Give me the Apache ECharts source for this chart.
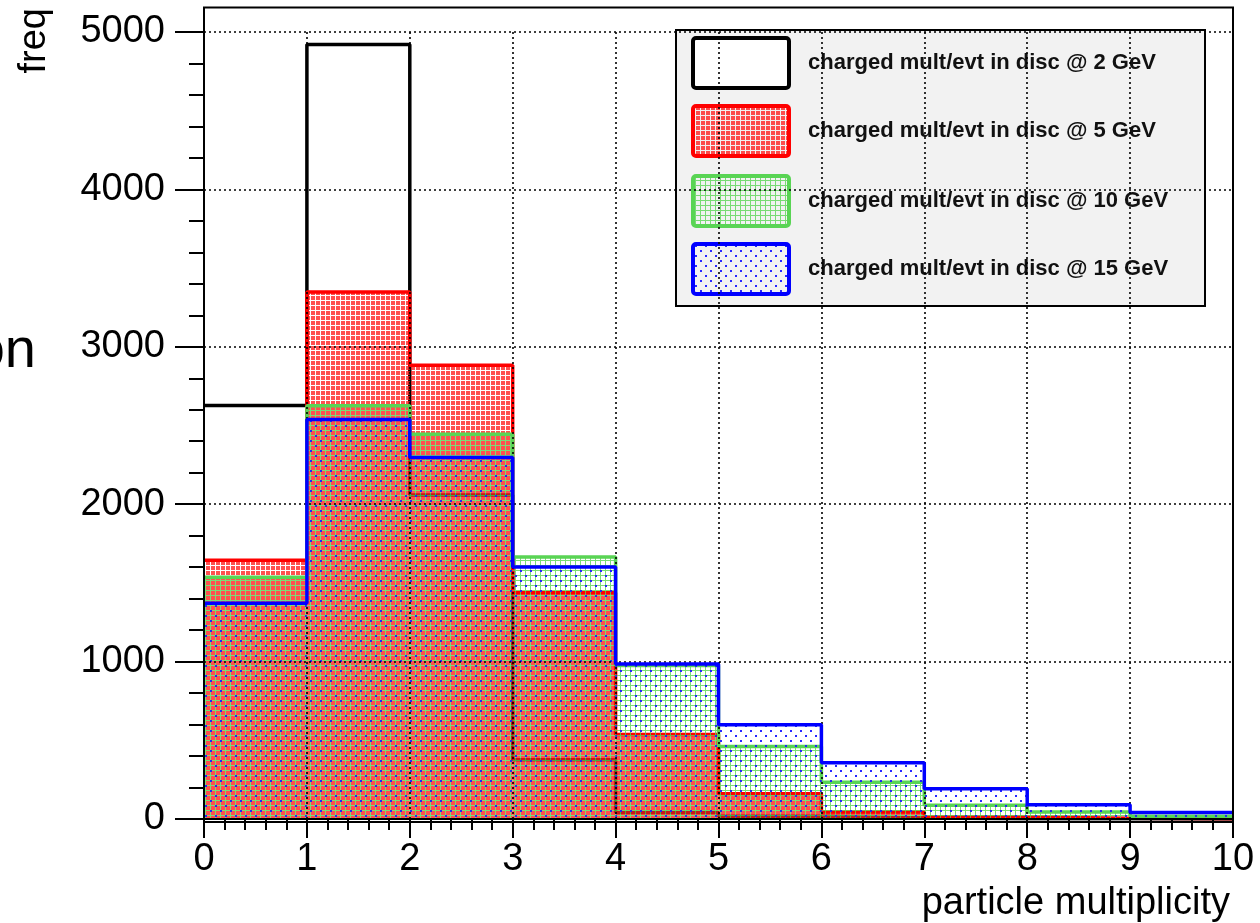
<!DOCTYPE html>
<html>
<head>
<meta charset="utf-8">
<script src="https://cdn.jsdelivr.net/npm/echarts@6/dist/echarts.min.js"></script>
<style>
  html, body { margin: 0; padding: 0; background: #ffffff; }
  #chart { width: 1260px; height: 923px; }
</style>
</head>
<body>
<div id="chart"></div>
<script>
// Charged-particle multiplicity per event in the disc, unit-width bins 0..10
const binLowEdges = [0, 1, 2, 3, 4, 5, 6, 7, 8, 9];
const binWidth = 1;

const freq2GeV  = [2627, 4920, 2058, 376, 42, 18, 6, 2, 1, 0];
const freq5GeV  = [1644, 3348, 2882, 1438, 537, 160, 45, 13, 4, 2];
const freq10GeV = [1536, 2625, 2445, 1665, 975, 461, 234, 87, 44, 17];
const freq15GeV = [1371, 2538, 2297, 1601, 984, 598, 358, 192, 91, 42];

const seriesNames = [
  'charged mult/evt in disc @ 2 GeV',
  'charged mult/evt in disc @ 5 GeV',
  'charged mult/evt in disc @ 10 GeV',
  'charged mult/evt in disc @ 15 GeV'
];
const lineColors = ['#000000', '#ff0000', '#59d454', '#0000ff'];

const xTitle = 'particle multiplicity';
const yTitle = 'freq';
const sideText = 'on';

// ---- fill patterns: red blocks, green mesh in the gaps, blue dots on the crossings ----
function makeTile(w, h, draw) {
  const c = document.createElement('canvas');
  c.width = w; c.height = h;
  draw(c.getContext('2d'));
  return { image: c, repeat: 'repeat' };
}
const patterns = [
  null,
  makeTile(10, 10, g => {
    g.fillStyle = 'rgba(255,30,30,0.78)';
    g.fillRect(1, 1, 4, 4); g.fillRect(6, 1, 4, 4);
    g.fillRect(1, 6, 4, 4); g.fillRect(6, 6, 4, 4);
  }),
  makeTile(10, 10, g => {
    g.fillStyle = 'rgba(89,212,84,0.8)';
    g.fillRect(0, 0, 10, 1); g.fillRect(0, 5, 10, 1);
    g.fillRect(0, 1, 1, 4);  g.fillRect(5, 1, 1, 4);
    g.fillRect(0, 6, 1, 4);  g.fillRect(5, 6, 1, 4);
  }),
  makeTile(10, 10, g => {
    g.fillStyle = 'rgba(30,30,255,0.95)';
    g.fillRect(0, 0, 2, 2);
    g.fillRect(5, 5, 2, 2);
  })
];

const allFreqs = [freq2GeV, freq5GeV, freq10GeV, freq15GeV];

function fillRenderer(pattern) {
  return function (params, api) {
    const lo = api.value(0), hi = api.value(1), v = api.value(2);
    const p0 = api.coord([lo, 0]);
    const p1 = api.coord([hi, v]);
    return {
      type: 'rect',
      silent: true,
      shape: { x: p0[0], y: p1[1], width: p1[0] - p0[0], height: p0[1] - p1[1] },
      style: { fill: pattern, stroke: null }
    };
  };
}

const series = [];
allFreqs.forEach((vals, k) => {
  if (patterns[k]) {
    series.push({
      type: 'custom',
      name: seriesNames[k] + ' fill',
      z: 3 + 2 * k,
      renderItem: fillRenderer(patterns[k]),
      encode: { x: [0, 1], y: 2 },
      data: binLowEdges.map((lo, i) => [lo, lo + binWidth, vals[i]]),
      clip: true
    });
  }
  const steps = binLowEdges.map((lo, i) => [lo, vals[i]]);
  steps.push([binLowEdges[binLowEdges.length - 1] + binWidth, vals[vals.length - 1]]);
  series.push({
    type: 'line',
    name: seriesNames[k],
    z: 4 + 2 * k,
    step: 'end',
    showSymbol: false,
    symbol: 'none',
    silent: true,
    clip: true,
    lineStyle: { color: lineColors[k], width: 3.5 },
    data: steps
  });
});

// ---- legend box ----
const legendRows = [38, 106, 176, 244];
const legendChildren = [{
  type: 'rect',
  shape: { x: 676, y: 30, width: 529, height: 276 },
  style: { fill: '#f2f2f2', stroke: '#000', lineWidth: 2 }
}];
seriesNames.forEach((name, k) => {
  legendChildren.push({
    type: 'rect',
    shape: { x: 693, y: legendRows[k], width: 96, height: 50, r: 3 },
    style: { fill: patterns[k] || '#ffffff', stroke: lineColors[k], lineWidth: 4 }
  });
  legendChildren.push({
    type: 'text',
    style: {
      x: 808, y: legendRows[k] + 25, text: name,
      font: 'bold 22px "Liberation Sans", Arial, sans-serif',
      fill: '#111', textAlign: 'left', textVerticalAlign: 'middle'
    }
  });
});

const axisFont = '"Liberation Sans", Arial, sans-serif';
const chart = echarts.init(document.getElementById('chart'), null, { renderer: 'canvas' });
chart.setOption({
  animation: false,
  backgroundColor: '#ffffff',
  grid: { left: 204, right: 27, top: 32, bottom: 101, containLabel: false },
  xAxis: {
    type: 'value', min: 0, max: 10, interval: 1, z: 10,
    name: xTitle, nameLocation: 'end', nameGap: -3,
    nameTextStyle: { fontSize: 38, fontFamily: axisFont, color: '#000', align: 'right', verticalAlign: 'top', padding: [66, 0, 0, 0] },
    axisLine: { show: true, onZero: false, lineStyle: { color: '#000', width: 2 } },
    axisTick: { show: true, length: 19, lineStyle: { color: '#000', width: 2 } },
    minorTick: { show: true, splitNumber: 5, length: 11, lineStyle: { color: '#000', width: 2 } },
    axisLabel: { fontSize: 38, fontFamily: axisFont, color: '#000', margin: 22, formatter: v => String(v) },
    splitLine: { show: true, lineStyle: { color: '#000', width: 1.6, type: [2, 3] } }
  },
  yAxis: {
    type: 'value', min: 0, max: 5000, interval: 1000, z: 10,
    axisLine: { show: true, onZero: false, lineStyle: { color: '#000', width: 2 } },
    axisTick: { show: true, length: 29, lineStyle: { color: '#000', width: 2 } },
    minorTick: { show: true, splitNumber: 5, length: 15, lineStyle: { color: '#000', width: 2 } },
    axisLabel: { fontSize: 38, fontFamily: axisFont, color: '#000', margin: 39, formatter: v => String(v) },
    splitLine: { show: true, lineStyle: { color: '#000', width: 1.6, type: [2, 3] } }
  },
  series: series,
  graphic: [
    {
      type: 'rect', z: 20, silent: true,
      shape: { x: 204, y: 7.5, width: 1029, height: 814.5 },
      style: { fill: null, stroke: '#000', lineWidth: 2 }
    },
    { type: 'group', z: 30, silent: true, children: legendChildren },
    {
      type: 'text', z: 20, silent: true,
      x: 35, y: 8, rotation: Math.PI / 2,
      style: { text: yTitle, font: '38px ' + axisFont, fill: '#000', textAlign: 'right', textVerticalAlign: 'middle' }
    },
    {
      type: 'text', z: 20, silent: true,
      x: 36, y: 352,
      style: { text: sideText, font: '56px ' + axisFont, fill: '#000', textAlign: 'right', textVerticalAlign: 'middle' }
    }
  ]
});
</script>
</body>
</html>
